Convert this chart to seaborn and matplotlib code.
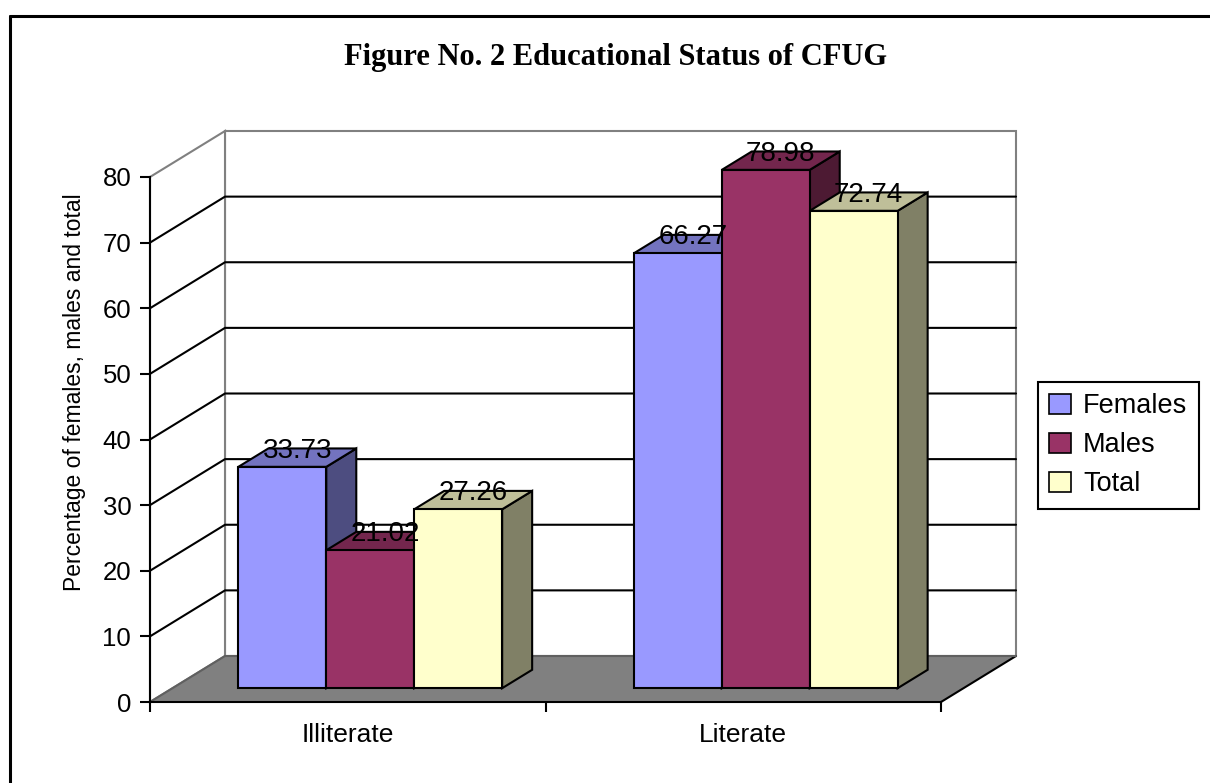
import numpy as np
import pandas as pd
import matplotlib
matplotlib.use("Agg")
import matplotlib.pyplot as plt
import seaborn as sns
from matplotlib.patches import Polygon, Patch, Rectangle
from matplotlib.lines import Line2D

# ---------------- data ----------------
categories = ["Illiterate", "Literate"]
groups = ["Females", "Males", "Total"]
females = [33.73, 66.27]
males = [21.02, 78.98]
total = [27.26, 72.74]
y_ticks = [0, 10, 20, 30, 40, 50, 60, 70, 80]
title = "Figure No. 2 Educational Status of CFUG"
y_label = "Percentage of females, males and total"

front_colors = ["#9999FF", "#993366", "#FFFFCC"]
top_colors = ["#7373BF", "#73264D", "#BFBF99"]
side_colors = ["#4D4D80", "#4D1A33", "#808066"]

df = pd.DataFrame({
    "category": categories * 3,
    "group": np.repeat(groups, len(categories)),
    "value": females + males + total,
})

sns.set_theme(style="white")
plt.rcParams["font.family"] = ["Liberation Sans", "DejaVu Sans"]
for key in ["text.color", "axes.labelcolor", "xtick.color", "ytick.color"]:
    plt.rcParams[key] = "black"

W, H = 1210, 783
fig = plt.figure(figsize=(W / 100, H / 100), dpi=100)
fig.patch.set_facecolor("white")

# front plane geometry (pixels, image coords)
FX0, FX1 = 150, 941
FY0, FY1 = 702, 177
DPX, DPY = 75, 46          # full depth offset in pixels
D_FRONT, D_BACK = 0.3, 0.7
YMAX = 80


def axes_rect(d):
    return [(FX0 + d * DPX) / W, (H - FY0 + d * DPY) / H,
            (FX1 - FX0) / W, (FY0 - FY1) / H]


ax = fig.add_axes(axes_rect(D_FRONT))
ax.set_zorder(1)
ax0 = fig.add_axes(axes_rect(0.0))
ax0.set_zorder(2)
ax0.patch.set_alpha(0)

DX = DPX / (FX1 - FX0) * 2.0
DY = DPY / (FY0 - FY1) * YMAX


def P(x, v, d):
    return (x + (d - D_FRONT) * DX, v + (d - D_FRONT) * DY)


# ---------------- walls & floor ----------------
back = Polygon([P(-0.5, 0, 1), P(1.5, 0, 1), P(1.5, YMAX, 1), P(-0.5, YMAX, 1)],
               closed=True, fc="white", ec="#808080", lw=1.5, zorder=0.5, clip_on=False)
ax.add_patch(back)
left = Polygon([P(-0.5, 0, 0), P(-0.5, 0, 1), P(-0.5, YMAX, 1), P(-0.5, YMAX, 0)],
               closed=True, fc="white", ec="#808080", lw=1.5, zorder=0.5, clip_on=False)
ax.add_patch(left)
for v in y_ticks[1:-1]:
    pts = [P(-0.5, v, 0), P(-0.5, v, 1), P(1.5, v, 1)]
    ax.plot([p[0] for p in pts], [p[1] for p in pts], color="black", lw=1.5,
            zorder=0.8, clip_on=False)
floor = Polygon([P(-0.5, 0, 0), P(1.5, 0, 0), P(1.5, 0, 1), P(-0.5, 0, 1)],
                closed=True, fc="#808080", ec="none", zorder=1.0, clip_on=False)
ax.add_patch(floor)
for (a, b, c) in [((1.5, 0, 0), (1.5, 0, 1), "black"),
                  ((-0.5, 0, 0), (-0.5, 0, 1), "#606060"),
                  ((-0.5, 0, 1), (1.5, 0, 1), "#606060")]:
    pa, pb = P(*a), P(*b)
    ax.plot([pa[0], pb[0]], [pa[1], pb[1]], color=c, lw=1.5, zorder=1.1, clip_on=False)

n_before = len(ax.patches)

# ---------------- bars ----------------
sns.barplot(data=df, x="category", y="value", hue="group", order=categories,
            hue_order=groups, palette=front_colors, saturation=1, width=0.667,
            edgecolor="black", linewidth=1.5, errorbar=None, legend=False, ax=ax)

ax.set_xlim(-0.5, 1.5)
ax.set_ylim(0, YMAX)
ax.axis("off")

bars = sorted([p for p in ax.patches[n_before:] if isinstance(p, Rectangle) and p.get_height() > 0],
              key=lambda p: p.get_x())
ox = (D_BACK - D_FRONT) * DX
oy = (D_BACK - D_FRONT) * DY
for k, p in enumerate(bars):
    gi = k % 3
    x0 = p.get_x()
    x1 = x0 + p.get_width()
    h = p.get_height()
    base = 10 + 3 * k
    side = Polygon([(x1, 0), (x1, h), (x1 + ox, h + oy), (x1 + ox, oy)], closed=True,
                   fc=side_colors[gi], ec="black", lw=1.5, zorder=base, clip_on=False)
    top = Polygon([(x0, h), (x1, h), (x1 + ox, h + oy), (x0 + ox, h + oy)], closed=True,
                  fc=top_colors[gi], ec="black", lw=1.5, zorder=base + 1, clip_on=False)
    ax.add_patch(side)
    ax.add_patch(top)
    p.set_zorder(base + 2)
    p.set_clip_on(False)
    ax.text((x0 + x1) / 2 + ox / 2, h + oy / 2, f"{h:.2f}", ha="center",
            va="baseline", fontsize=20, color="black", zorder=50, clip_on=False)

# ---------------- front axis ----------------
ax0.set_xlim(-0.5, 1.5)
ax0.set_ylim(0, YMAX)
for s in ["top", "right"]:
    ax0.spines[s].set_visible(False)
for s in ["left", "bottom"]:
    ax0.spines[s].set_color("black")
    ax0.spines[s].set_linewidth(1.5)
ax0.set_yticks(y_ticks)
ax0.set_yticklabels([str(t) for t in y_ticks], fontsize=18.5)
ax0.set_xticks([0, 1])
ax0.set_xticklabels(categories, fontsize=19)
ax0.set_xticks([-0.5, 0.5, 1.5], minor=True)
ax0.tick_params(axis="y", which="major", direction="out", length=7.5, width=1.5,
                color="black", pad=6, left=True)
ax0.tick_params(axis="x", which="major", length=0, pad=15)
ax0.tick_params(axis="x", which="minor", direction="out", length=7.5, width=1.5,
                color="black", bottom=True)
ax0.grid(False)
ax0.set_ylabel(y_label, fontsize=16.5)
ax0.yaxis.set_label_coords(-0.081, 0.59)

# ---------------- legend ----------------
handles = [Patch(fc=c, ec="black", lw=1.2) for c in front_colors]
leg = fig.legend(handles, groups, loc="upper left", bbox_to_anchor=(1038 / W, 1 - 382 / H),
                 frameon=True, fancybox=False, edgecolor="black", fontsize=19.5,
                 handlelength=0.8, handleheight=0.8, borderaxespad=0, labelspacing=0.48,
                 handletextpad=0.45, borderpad=0.42, framealpha=1)
leg.get_frame().set_linewidth(1.5)

# ---------------- title & frame ----------------
fig.text(616 / W, 1 - 57 / H, title, ha="center", va="center", fontsize=22,
         fontweight="bold", family=["Liberation Serif", "DejaVu Serif"])
fig.add_artist(Line2D([9.5 / W, 9.5 / W], [0, 1 - 15.5 / H], transform=fig.transFigure,
                      color="black", lw=2.2))
fig.add_artist(Line2D([9.5 / W, 1], [1 - 15.5 / H, 1 - 15.5 / H], transform=fig.transFigure,
                      color="black", lw=2.2))

fig.savefig("out.png", dpi=100)
